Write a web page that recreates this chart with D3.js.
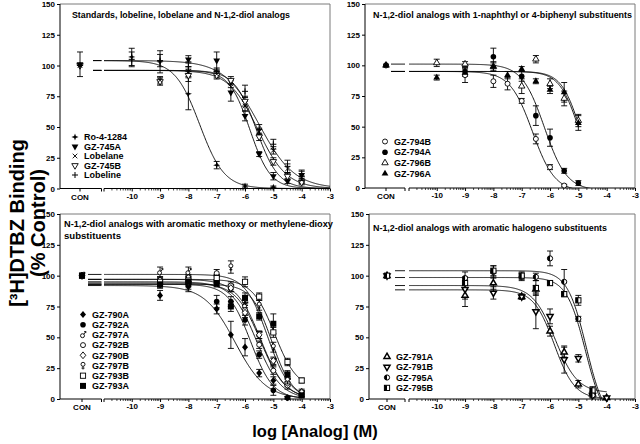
<!DOCTYPE html>
<html><head><meta charset="utf-8">
<script src="https://cdn.jsdelivr.net/npm/d3@7"></script>
<style>
body{margin:0;background:#fff}
svg{display:block}
text{font-family:"Liberation Sans",Arial,sans-serif;font-weight:bold;fill:#000}
</style>
</head><body>
<svg id="chart" width="640" height="444"></svg>
<script>
// ---------- axis / text values ----------
const yTickValues = [0, 25, 50, 75, 100, 125, 150];
const xTickValues = [-10, -9, -8, -7, -6, -5, -4, -3];
const xTickLabels = ["-10", "-9", "-8", "-7", "-6", "-5", "-4", "-3"];
const conLabel = "CON";
const yTitle = ["[³H]DTBZ Binding", "(% Control)"];
const xTitle = "log [Analog] (M)";
const panelTitles = [
  ["Standards, lobeline, lobelane and N-1,2-diol analogs"],
  ["N-1,2-diol analogs with 1-naphthyl or 4-biphenyl substituents"],
  ["N-1,2-diol analogs with aromatic methoxy or methylene-dioxy", "substituents"],
  ["N-1,2-diol analogs with aromatic halogeno substituents"]
];

// ---------- panel 1: standards ----------  [logX or "CON", mean %, sem]
const tlNames = ["Ro-4-1284", "GZ-745A", "Lobelane", "GZ-745B", "Lobeline"];
const ro41284 = [["CON",100,0],[-10,107,7],[-9,103,9],[-8,77,13],[-7,19,3],[-6,2,1.5],[-5,1,1]];
const gz745A  = [["CON",101,10],[-8,105,3],[-7,104,7],[-6.5,78,7],[-6,59,4],[-5.5,28,2],[-5,10,3],[-4.5,6,2],[-4,11,3]];
const lobelane = [["CON",100,0],[-9,88,3],[-8,95,4],[-7,93,3],[-6.5,85,3],[-6,67,4],[-5.5,46,3],[-5,31,3],[-4.5,16,4],[-4,7,3]];
const gz745B  = [["CON",100,0],[-9,87,3],[-8,92,5],[-7,92,3],[-6.5,88,3],[-6,71,4],[-5.5,42,3],[-5,22,3],[-4.5,10,3],[-4,5,2]];
const lobeline = [["CON",100,0],[-10,105,6],[-9,104,5],[-8,99,4],[-7,95,3],[-6,79,5],[-5.5,48,4],[-5,36,4],[-4.5,18,5],[-4,10,5]];
// fit: [top, bottom, logIC50, hill, last log x]
const tlFits = [[104,0,-7.6,1.0,-3],[96,0,-5.83,1.19,-3],[96,0,-5.55,0.85,-3],[96,0,-5.6,1.12,-3],[104,0,-5.5,0.7,-3]];

// ---------- panel 2: naphthyl / biphenyl ----------
const trNames = ["GZ-794B", "GZ-794A", "GZ-796B", "GZ-796A"];
const gz794B = [["CON",100,0],[-9,92,6],[-8,87,5],[-7.5,85,5],[-7,71,2],[-6.5,40,4],[-6,17,2],[-5.5,2,1]];
const gz794A = [["CON",100,0],[-9,95,3],[-8,107,7],[-7,91,4],[-6.5,59,8],[-6,41,7],[-5.5,14,2],[-5,4,2]];
const gz796B = [["CON",100,0],[-10,102,3],[-9,101,2],[-8,99,3],[-7,83,6],[-6.5,105,3],[-6,85,4],[-5.5,73,6],[-5,55,5]];
const gz796A = [["CON",100,0],[-10,90,2],[-9,94,3],[-8,99,4],[-7.5,92,3],[-7,97,2],[-6.5,87,2],[-6,80,3],[-5.5,78,8],[-5,53,6]];
const trFits = [[95,-3,-6.62,1.1,-4],[101,-2,-6.2,1.1,-4],[95,0,-4.93,1.3,-5],[95,0,-4.97,1.25,-5]];

// ---------- panel 3: methoxy / methylene-dioxy ----------
const blNames = ["GZ-790A", "GZ-792A", "GZ-797A", "GZ-792B", "GZ-790B", "GZ-797B", "GZ-793B", "GZ-793A"];
const gz790A = [["CON",100,0],[-9,84,4],[-8,91,4],[-7,73,4],[-6.5,52,11],[-6,42,7],[-5.5,21,3],[-5,15,3],[-4.5,1,1]];
const gz792A = [["CON",100,0],[-9,93,3],[-8,93,4],[-7,79,5],[-6.5,79,4],[-6,64,4],[-5.5,36,3],[-5,7,4],[-4.5,1,1]];
const gz797A = [["CON",100,0],[-9,103,4],[-8,103,4],[-7,97,3],[-6.5,90,3],[-6,76,4],[-5.5,52,3],[-5,30,3],[-4.5,14,3],[-4,4,2]];
const gz792B = [["CON",100,0],[-9,96,3],[-8,97,3],[-7,102,3],[-6.5,92,3],[-6,72,4],[-5.5,44,3],[-5,23,3],[-4.5,11,3],[-4,4,2]];
const gz790B = [["CON",100,0],[-9,94,3],[-8,95,3],[-7,94,3],[-6.5,90,3],[-6,70,4],[-5.5,52,3],[-5,31,3],[-4.5,13,3],[-4,6,2]];
const gz797B = [["CON",100,0],[-9,96,3],[-8,98,3],[-7,98,3],[-6.5,107,5],[-6,80,4],[-5.5,76,4],[-5,42,4],[-4.5,15,3],[-4,5,2]];
const gz793B = [["CON",100,0],[-9,95,3],[-8,96,3],[-7,98,3],[-6,95,4],[-5.5,83,3],[-5,54,4],[-4.5,30,3],[-4,15,2]];
const gz793A = [["CON",100,0],[-9,93,3],[-8,95,4],[-7,94,3],[-6.5,75,4],[-6,82,4],[-5.5,67,3],[-5,61,8],[-4.5,20,3],[-4,3,2]];
const blFits = [[92,0,-6.35,0.8,-4],[93,0,-5.8,1.1,-4],[97,0,-5.45,1.0,-4],[95,0,-5.6,1.0,-4],
                [94,0,-5.45,1.0,-4],[101,0,-5.2,1.1,-4],[97,8,-4.95,1.1,-4],[93,0,-5.05,1.2,-4]];

// ---------- panel 4: halogeno ----------
const brNames = ["GZ-791A", "GZ-791B", "GZ-795A", "GZ-795B"];
const gz791A = [["CON",100,0],[-9,84,9],[-8,94,5],[-7,83,2],[-6.5,89,3],[-6,55,4],[-5.5,38,4],[-5,12,3],[-4.5,4,2],[-4,1,1]];
const gz791B = [["CON",100,0],[-9,89,8],[-8,86,5],[-7,83,2],[-6.5,71,14],[-6,67,6],[-5.5,32,11],[-5,33,3],[-4.5,3,2],[-4,1,1]];
const gz795A = [["CON",100,0],[-9,98,5],[-8,103,5],[-7,99,3],[-6.5,99,3],[-6,114,6],[-5.5,95,10],[-5,65,2],[-4.5,3,2]];
const gz795B = [["CON",100,0],[-9,94,5],[-8,104,4],[-7,100,3],[-6.5,90,6],[-6,94,2],[-5.5,85,2],[-5,80,4],[-4.5,7,3]];
const brFits = [[92,5,-5.82,1.1,-4],[88.5,0,-5.85,1.2,-4],[98.5,-20,-4.75,1.3,-4],[104,-20,-4.72,1.3,-4]];

// ---------- layout (positions & styles, not data) ----------
const panels = [
  {names: tlNames, series: [ro41284, gz745A, lobelane, gz745B, lobeline], fits: tlFits,
   markers: ["star","triDownFill","x","triDownOpen","plus"], order: [4,3,2,0,1],
   left:60, right:330, top:4, bottom:188.5, con:80, segA:[60,101.5], segB:[104,330], piece:[93,101.5],
   log0:103.4, log1:330, titleX:72, titleY:[18], titleLen:[218],
   legX:75, legY:137, legDy:9.5},
  {names: trNames, series: [gz794B, gz794A, gz796B, gz796A], fits: trFits,
   markers: ["circleOpen","circleFill","triUpOpen","triUpFill"], order: [0,1,2,3],
   left:365, right:635, top:4, bottom:188, con:386, segA:[365,405], segB:[409,635], piece:[391,405],
   log0:408.4, log1:635, titleX:373, titleY:[18], titleLen:[259],
   legX:385, legY:141.5, legDy:10.7},
  {names: blNames, series: [gz790A, gz792A, gz797A, gz792B, gz790B, gz797B, gz793B, gz793A], fits: blFits,
   markers: ["diamondFill","circleFill","male","circleOpen","diamondOpen","female","squareOpen","squareFill"],
   order: [0,1,2,3,4,5,6,7],
   left:60, right:330, top:214, bottom:399, con:82, segA:[60,101.5], segB:[104,330], piece:[88,101.5],
   log0:103.4, log1:330, titleX:64, titleY:[227,238.5], titleLen:[269,57],
   legX:83, legY:314.5, legDy:10.2},
  {names: brNames, series: [gz791A, gz791B, gz795A, gz795B], fits: brFits,
   markers: ["triUpThick","triDownThick","halfCircle","halfSquare"], order: [0,1,2,3],
   left:369, right:635, top:214, bottom:399, con:387, segA:[369,405], segB:[409,635], piece:[395,405],
   log0:408.4, log1:635, titleX:373, titleY:[231], titleLen:[234],
   legX:387, legY:356.7, legDy:10.4}
];

const svg = d3.select("#chart");
const frameColor = "#7a7a7a";

function fitValue(f, x) {
  return f[1] + (f[0] - f[1]) / (1 + Math.pow(10, (x - f[2]) * f[3]));
}

function marker(g, type, x, y) {
  const s = g.append("g").attr("transform", `translate(${x},${y})`);
  const blk = "#000";
  const sym = (t, size) => d3.symbol(t, size)();
  switch (type) {
    case "star":
      s.append("path").attr("d", "M0,-3.6L0.9,-0.9L3.6,0L0.9,0.9L0,3.6L-0.9,0.9L-3.6,0L-0.9,-0.9Z").attr("fill", blk);
      break;
    case "triDownFill":
      s.append("path").attr("d", sym(d3.symbolTriangle, 20)).attr("transform", "rotate(180)").attr("fill", blk);
      break;
    case "triDownOpen":
      s.append("path").attr("d", sym(d3.symbolTriangle, 18)).attr("transform", "rotate(180)").attr("fill", "#fff").attr("stroke", blk).attr("stroke-width", 0.9);
      break;
    case "triUpFill":
      s.append("path").attr("d", sym(d3.symbolTriangle, 20)).attr("fill", blk);
      break;
    case "triUpOpen":
      s.append("path").attr("d", sym(d3.symbolTriangle, 18)).attr("fill", "#fff").attr("stroke", blk).attr("stroke-width", 0.9);
      break;
    case "triUpThick":
      s.append("path").attr("d", sym(d3.symbolTriangle, 16)).attr("fill", "#fff").attr("stroke", blk).attr("stroke-width", 1.5);
      break;
    case "triDownThick":
      s.append("path").attr("d", sym(d3.symbolTriangle, 16)).attr("transform", "rotate(180)").attr("fill", "#fff").attr("stroke", blk).attr("stroke-width", 1.5);
      break;
    case "x":
      s.append("path").attr("d", "M-2.3,-2.3L2.3,2.3M-2.3,2.3L2.3,-2.3").attr("stroke", blk).attr("stroke-width", 0.9);
      break;
    case "plus":
      s.append("path").attr("d", "M-3,0H3M0,-3V3").attr("stroke", blk).attr("stroke-width", 1);
      break;
    case "circleOpen":
      s.append("circle").attr("r", 2.5).attr("fill", "#fff").attr("stroke", blk).attr("stroke-width", 0.9);
      break;
    case "circleFill":
      s.append("circle").attr("r", 2.8).attr("fill", blk);
      break;
    case "diamondFill":
      s.append("path").attr("d", "M0,-3.6L3,0L0,3.6L-3,0Z").attr("fill", blk);
      break;
    case "diamondOpen":
      s.append("path").attr("d", "M0,-3.4L2.8,0L0,3.4L-2.8,0Z").attr("fill", "#fff").attr("stroke", blk).attr("stroke-width", 0.9);
      break;
    case "squareOpen":
      s.append("rect").attr("x", -2.6).attr("y", -2.6).attr("width", 5.2).attr("height", 5.2).attr("fill", "#fff").attr("stroke", blk).attr("stroke-width", 0.9);
      break;
    case "squareFill":
      s.append("rect").attr("x", -3).attr("y", -3).attr("width", 6).attr("height", 6).attr("fill", blk);
      break;
    case "halfCircle":
      s.append("circle").attr("r", 2.6).attr("fill", "#fff").attr("stroke", blk).attr("stroke-width", 1);
      s.append("path").attr("d", "M0,-2.6A2.6,2.6 0 0 0 0,2.6Z").attr("fill", blk);
      break;
    case "halfSquare":
      s.append("rect").attr("x", -2.6).attr("y", -2.6).attr("width", 5.2).attr("height", 5.2).attr("fill", "#fff").attr("stroke", blk).attr("stroke-width", 1);
      s.append("rect").attr("x", -2.6).attr("y", -2.6).attr("width", 2.6).attr("height", 5.2).attr("fill", blk);
      break;
    case "male":
      s.append("circle").attr("cx", -0.5).attr("cy", 0.8).attr("r", 2).attr("fill", "#fff").attr("stroke", blk).attr("stroke-width", 0.9);
      s.append("path").attr("d", "M0.8,-0.6L2.8,-3.4M1.2,-3.4H2.8V-1.8").attr("fill", "none").attr("stroke", blk).attr("stroke-width", 0.9);
      break;
    case "female":
      s.append("circle").attr("cx", 0).attr("cy", -1.2).attr("r", 2).attr("fill", "#fff").attr("stroke", blk).attr("stroke-width", 0.9);
      s.append("path").attr("d", "M0,0.8V4M-1.5,2.6H1.5").attr("fill", "none").attr("stroke", blk).attr("stroke-width", 0.9);
      break;
  }
}

panels.forEach((p, pi) => {
  const g = svg.append("g");
  const y = d3.scaleLinear().domain([0, 150]).range([p.bottom, p.top]);
  const x = d3.scaleLinear().domain([-11, -3]).range([p.log0, p.log1]);
  const xPos = v => v === "CON" ? p.con : x(v);

  // frame (top + right)
  g.append("path").attr("d", `M${p.left},${p.top}H${p.right}V${p.bottom}`)
    .attr("fill", "none").attr("stroke", frameColor).attr("stroke-width", 1);

  // y axis
  const yAxis = d3.axisLeft(y).tickValues(yTickValues).tickSize(3).tickPadding(2).tickFormat(d3.format("d"));
  const ya = g.append("g").attr("transform", `translate(${p.left},0)`).call(yAxis);
  ya.select(".domain").attr("d", `M0,${p.top}V${p.bottom}`).attr("stroke", "#000");
  ya.selectAll("text").attr("font-size", 8).attr("font-family", "Liberation Sans, Arial, sans-serif").attr("font-weight", "bold");

  // x axis: CON segment
  g.append("line").attr("x1", p.segA[0]).attr("x2", p.segA[1]).attr("y1", p.bottom).attr("y2", p.bottom).attr("stroke", "#000");
  [p.con, p.segA[1]].forEach(xx => g.append("line").attr("x1", xx).attr("x2", xx).attr("y1", p.bottom).attr("y2", p.bottom + 3).attr("stroke", "#000"));
  g.append("text").attr("x", p.con).attr("y", p.bottom + 11).attr("text-anchor", "middle").attr("font-size", 8).text(conLabel);

  // x axis: log segment
  g.append("line").attr("x1", p.segB[0]).attr("x2", p.segB[1]).attr("y1", p.bottom).attr("y2", p.bottom).attr("stroke", "#000");
  g.append("line").attr("x1", p.segB[0]).attr("x2", p.segB[0]).attr("y1", p.bottom).attr("y2", p.bottom + 3).attr("stroke", "#000");
  const minor = [];
  for (let d = -11; d < -3; d++) for (let k = 2; k <= 9; k++) minor.push(d + Math.log10(k));
  g.selectAll(".minor").data(minor.filter(v => x(v) >= p.segB[0])).enter().append("line")
    .attr("x1", d => x(d)).attr("x2", d => x(d)).attr("y1", p.bottom).attr("y2", p.bottom + 2)
    .attr("stroke", "#000").attr("stroke-width", 0.7);
  const xAxis = d3.axisBottom(x).tickValues(xTickValues).tickSize(3).tickPadding(1.5)
    .tickFormat((d, i) => xTickLabels[i]);
  const xa = g.append("g").attr("transform", `translate(0,${p.bottom})`).call(xAxis);
  xa.select(".domain").remove();
  xa.selectAll("text").attr("font-size", 8).attr("font-family", "Liberation Sans, Arial, sans-serif").attr("font-weight", "bold");

  // title
  panelTitles[pi].forEach((t, ti) => {
    g.append("text").attr("x", p.titleX).attr("y", p.titleY[ti]).attr("font-size", 9)
      .attr("textLength", p.titleLen[ti]).attr("lengthAdjust", "spacingAndGlyphs").text(t);
  });

  // curves
  const clipId = "clip" + pi;
  svg.append("clipPath").attr("id", clipId).append("rect")
    .attr("x", p.segB[0]).attr("y", p.top).attr("width", p.right - p.segB[0]).attr("height", p.bottom - p.top);
  const line = d3.line().x(d => x(d[0])).y(d => y(d[1]));
  const cg = g.append("g").attr("clip-path", `url(#${clipId})`);
  p.fits.forEach(f => {
    const pts = d3.range(-11, f[4] + 0.001, 0.02).map(v => [v, fitValue(f, v)]);
    cg.append("path").attr("d", line(pts)).attr("fill", "none").attr("stroke", "#000").attr("stroke-width", 0.9);
    g.append("line").attr("x1", p.piece[0]).attr("x2", p.piece[1])
      .attr("y1", y(fitValue(f, -14))).attr("y2", y(fitValue(f, -14)))
      .attr("stroke", "#000").attr("stroke-width", 0.9);
  });

  // error bars
  p.series.forEach(s => {
    s.forEach(d => {
      if (d[2] <= 0) return;
      const xx = xPos(d[0]);
      g.append("path").attr("d", `M${xx},${y(d[1]-d[2])}V${y(d[1]+d[2])}M${xx-3},${y(d[1]-d[2])}H${xx+3}M${xx-3},${y(d[1]+d[2])}H${xx+3}`)
        .attr("stroke", "#000").attr("stroke-width", 0.9).attr("fill", "none");
    });
  });
  // markers
  p.order.forEach(si => {
    p.series[si].forEach(d => marker(g, p.markers[si], xPos(d[0]), y(d[1])));
  });

  // legend
  p.names.forEach((n, i) => {
    const ly = p.legY + i * p.legDy;
    marker(g, p.markers[i], p.legX, ly);
    g.append("text").attr("x", p.legX + 9).attr("y", ly + 3.2).attr("font-size", 9).text(n);
  });
});

// axis titles
svg.append("text").attr("transform", "translate(24,223) rotate(-90)").attr("text-anchor", "middle")
  .attr("font-size", 20).text(yTitle[0]);
svg.append("text").attr("transform", "translate(45,223) rotate(-90)").attr("text-anchor", "middle")
  .attr("font-size", 20).text(yTitle[1]);
svg.append("text").attr("x", 315).attr("y", 437).attr("text-anchor", "middle")
  .attr("font-size", 16.5).text(xTitle);
</script>
</body></html>
